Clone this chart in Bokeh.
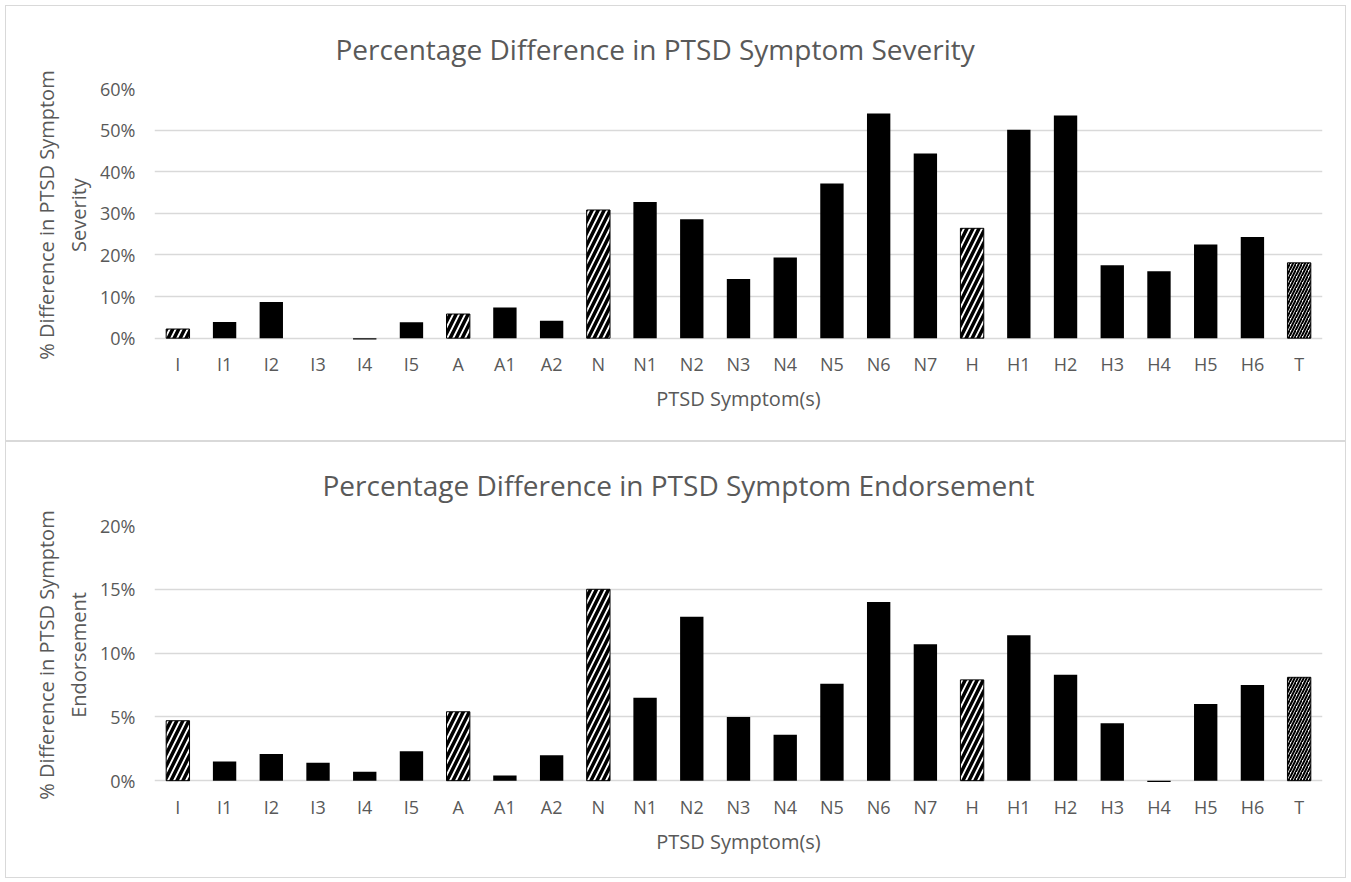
from bokeh.plotting import figure
from bokeh.models import ColumnDataSource, Range1d, FixedTicker, PrintfTickFormatter
from bokeh.layouts import column
from bokeh.embed import file_html
from bokeh.resources import INLINE

symptoms = ["I", "I1", "I2", "I3", "I4", "I5", "A", "A1", "A2", "N", "N1", "N2",
            "N3", "N4", "N5", "N6", "N7", "H", "H1", "H2", "H3", "H4", "H5", "H6", "T"]
bar_kind = ["cluster", "item", "item", "item", "item", "item", "cluster", "item", "item",
            "cluster", "item", "item", "item", "item", "item", "item", "item",
            "cluster", "item", "item", "item", "item", "item", "item", "total"]
severity_pct = [2.2, 3.9, 8.7, 0.0, -0.3, 3.8, 5.8, 7.4, 4.2, 30.8, 32.7, 28.6,
                14.2, 19.4, 37.2, 54.0, 44.4, 26.4, 50.1, 53.5, 17.5, 16.1, 22.5, 24.3, 18.1]
endorsement_pct = [4.7, 1.5, 2.1, 1.4, 0.7, 2.3, 5.4, 0.4, 2.0, 15.0, 6.5, 12.85,
                   5.0, 3.6, 7.6, 14.0, 10.7, 7.9, 11.4, 8.3, 4.5, -0.1, 6.0, 7.5, 8.1]
severity_ticks = [0, 10, 20, 30, 40, 50, 60]
endorsement_ticks = [0, 5, 10, 15, 20]

FONT = "Open Sans"
GREY = "#595959"
GRID = "#d9d9d9"

fill_map = {"cluster": "white", "item": "black", "total": "white"}
line_map = {"cluster": "black", "item": None, "total": "black"}
hatch_map = {"cluster": "/", "item": " ", "total": "/"}
scale_map = {"cluster": 12, "item": 1, "total": 6}
weight_map = {"cluster": 3.5, "item": 1, "total": 2}


def make_chart(title, values, ticks, ymin, ylabel, height, top_border, bottom_border,
               title_offset, title_standoff):
    src = ColumnDataSource(dict(
        x=symptoms, top=values,
        fill=[fill_map[k] for k in bar_kind],
        line=[line_map[k] for k in bar_kind],
        hatch=[hatch_map[k] for k in bar_kind],
        hscale=[scale_map[k] for k in bar_kind],
        hweight=[weight_map[k] for k in bar_kind],
    ))
    p = figure(x_range=symptoms, y_range=Range1d(ymin, ticks[-1]),
               width=1341, height=height, output_backend="svg", toolbar_location=None,
               min_border_left=148, min_border_right=25,
               min_border_top=top_border, min_border_bottom=bottom_border)
    p.vbar(x="x", top="top", bottom=0, width=0.5, source=src,
           fill_color="fill", line_color="line", line_width=1,
           hatch_pattern="hatch", hatch_color="black",
           hatch_scale="hscale", hatch_weight="hweight")
    p.title.text = title
    p.title.align = "left"
    p.title.vertical_align = "middle"
    p.title.offset = title_offset
    p.title.standoff = title_standoff
    p.title.text_font = FONT
    p.title.text_font_size = "28px"
    p.title.text_font_style = "normal"
    p.title.text_color = GREY

    p.outline_line_color = None
    p.xgrid.grid_line_color = None
    p.ygrid.grid_line_color = GRID
    p.ygrid.grid_line_width = 1.3

    p.yaxis.ticker = FixedTicker(ticks=ticks)
    p.yaxis.formatter = PrintfTickFormatter(format="%d%%")
    p.yaxis.axis_line_color = None
    p.yaxis.major_label_standoff = 19
    p.yaxis.axis_label = ylabel
    p.yaxis.axis_label_standoff = 5

    p.xaxis.axis_line_color = None
    p.xaxis.major_label_standoff = 10
    p.xaxis.axis_label = "PTSD Symptom(s)"
    p.xaxis.axis_label_standoff = 6

    for ax in (p.xaxis, p.yaxis):
        ax.major_tick_line_color = None
        ax.minor_tick_line_color = None
        ax.major_tick_out = 0
        ax.major_tick_in = 0
        ax.minor_tick_out = 0
        ax.minor_tick_in = 0
        ax.major_label_text_font = FONT
        ax.major_label_text_font_size = "18px"
        ax.major_label_text_color = GREY
        ax.axis_label_text_font = FONT
        ax.axis_label_text_font_size = "20px"
        ax.axis_label_text_font_style = "normal"
        ax.axis_label_text_color = GREY
    p.styles = {"border": "1px solid #d9d9d9", "box-sizing": "border-box"}
    return p


p1 = make_chart("Percentage Difference in PTSD Symptom Severity", severity_pct,
                severity_ticks, -0.8, "% Difference in PTSD Symptom\nSeverity",
                436, 82, 101, 181, 39)
p2 = make_chart("Percentage Difference in PTSD Symptom Endorsement", endorsement_pct,
                endorsement_ticks, -0.3, "% Difference in PTSD Symptom\nEndorsement",
                437, 83, 95, 168, 42)

layout = column(p1, p2, spacing=0, margin=(5, 5, 5, 5))
open("out.html", "w").write(file_html(layout, INLINE))
